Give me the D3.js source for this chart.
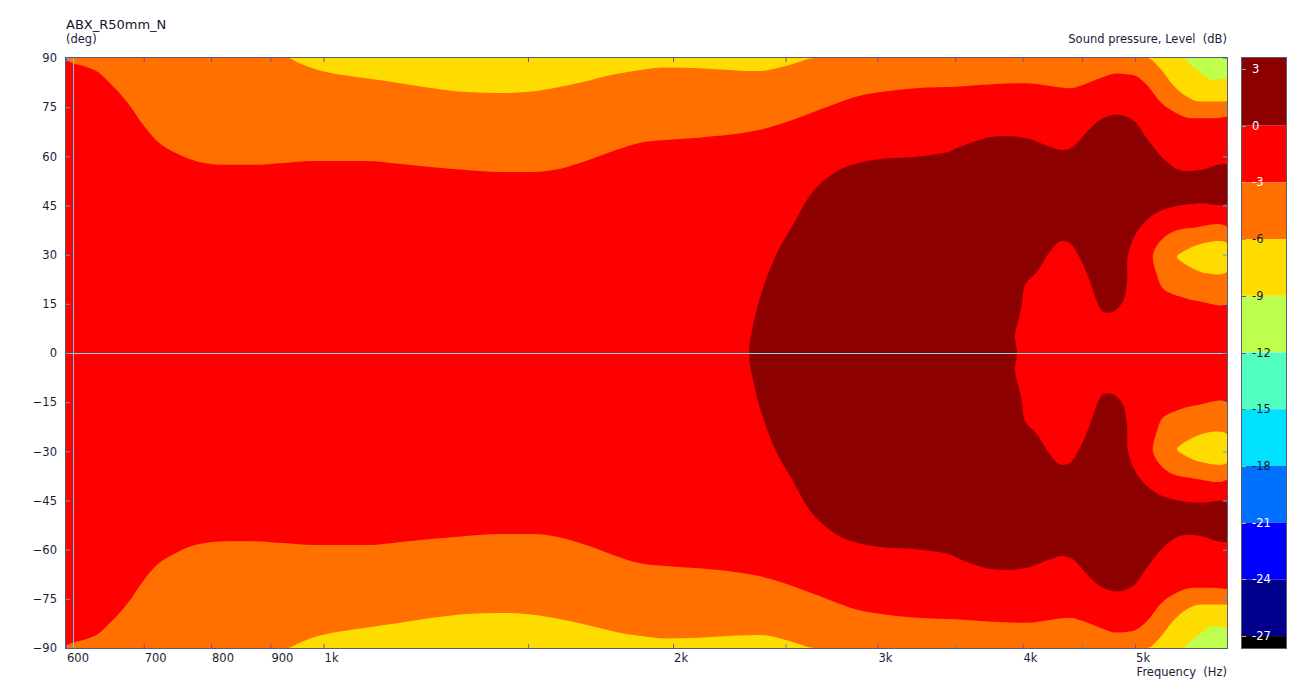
<!DOCTYPE html>
<html><head><meta charset="utf-8">
<script src="https://cdn.jsdelivr.net/npm/d3@7"></script>
<style>
body{margin:0;background:#fff}
text{font-family:"DejaVu Sans",Verdana,sans-serif;white-space:pre}
</style>
</head><body>
<svg id="chart" width="1300" height="684"></svg>
<script>
// ---------- data ----------
const chartTitle = "ABX_R50mm_N";
const freqTicks = [600, 700, 800, 900, 1000, 2000, 3000, 4000, 5000];
const freqTickLabels = ["600", "700", "800", "900", "1k", "2k", "3k", "4k", "5k"];
const freqMinorTicks = [1500, 2500, 3500, 4500];
const angleTicks = [90, 75, 60, 45, 30, 15, 0, -15, -30, -45, -60, -75, -90];
const levelTicks = [3, 0, -3, -6, -9, -12, -15, -18, -21, -24, -27];
const levelEdges = [3.58, 0, -3, -6, -9, -12, -15, -18, -21, -24, -27, -27.63];
const levelColors = ["#8c0000", "#ff0000", "#ff7000", "#ffdc00", "#bdff4c", "#50ffc0",
                     "#00e0ff", "#0070ff", "#0000ff", "#00008c", "#000000"];

const edgeMinus9 = [[600,90],[5400,90],[5487,90],[5608,87.3],[5687,85.7],[5835,83.3],[6000,83.9]];
const edgeMinus6 = [[600,90],[932,90],[952,88.5],[991,86.3],[1039,84.8],[1088,83.8],[1161,82.4],
  [1242,80.8],[1327,79.6],[1416,79.3],[1494,79.6],[1577,80.8],[1673,82.7],[1786,85.1],[1870,86.3],
  [1972,87.1],[2106,86.9],[2252,86.3],[2371,86.0],[2487,87.3],[2567,88.8],[2619,89.8],[2650,90],
  [5119,90],[5253,86.9],[5390,81.8],[5542,78.2],[5687,76.7],[6000,76.7]];
const edgeMinus3 = [[600,89.2],[608,88.4],[624,87.3],[641,85.4],[653,82.7],[666,79.6],[680,75.7],
  [699,69.6],[717,65.0],[746,61.0],[781,58.3],[824,57.4],[869,57.4],[923,58.0],[979,58.6],[1088,58.6],
  [1161,57.7],[1242,56.7],[1327,55.8],[1416,55.2],[1515,55.2],[1577,55.8],[1673,58.3],[1786,61.9],
  [1870,64.1],[1972,65.0],[2106,65.7],[2252,66.7],[2371,68.0],[2487,70.1],[2603,72.6],[2746,75.7],
  [2874,78.2],[3032,79.7],[3238,80.8],[3533,81.3],[3772,82.0],[4035,82.3],[4249,81.3],[4394,80.8],
  [4509,81.8],[4663,83.8],[4823,85.3],[4979,84.8],[5119,81.8],[5253,76.7],[5433,73.1],[5608,71.6],
  [5835,71.6],[6000,72.1]];
const edgeZero = [[2325,0],[2348,9.6],[2390,19.7],[2453,29.9],[2537,39.1],[2639,49.2],[2779,55.8],
  [2973,58.9],[3238,59.9],[3457,61.4],[3533,62.9],[3772,66.0],[4035,65.5],[4223,62.9],[4334,61.9],
  [4420,62.9],[4545,67.5],[4663,71.1],[4823,72.8],[4979,71.1],[5119,65.5],[5284,59.4],[5465,55.8],
  [5687,55.8],[6000,57.4],[6000,45.7],[5687,45.7],[5390,44.6],[5180,42.1],[5019,37.0],[4930,29.9],
  [4920,21.8],[4881,15.7],[4785,12.6],[4691,12.6],[4636,15.7],[4572,21.8],[4482,28.9],[4394,33.5],
  [4308,34.0],[4223,30.9],[4116,24.8],[4019,20.7],[3995,14.6],[3964,9.5],[3940,5.5],[3956,0]];
const islandMinus3 = [[6000,38.5],[5608,38.2],[5390,37.0],[5253,34.0],[5180,29.9],[5222,23.8],
  [5284,19.7],[5465,17.2],[5687,15.7],[6000,15.2]];
const islandMinus6 = [[6000,33.5],[5687,33.2],[5498,30.9],[5433,29.4],[5542,26.8],[5766,24.3],[6000,24.8]];
const cursorFreq = 608;

// ---------- chart ----------
const svg = d3.select("#chart");
const L = 66, R = 1227, T = 58, B = 648;
const x = d3.scaleLog().domain([600, 6000]).range([L, R]);
const y = d3.scaleLinear().domain([-90, 90]).range([B, T]);
const cb = d3.scaleLinear().domain([levelEdges[levelEdges.length-1], levelEdges[0]]).range([B, T]);
const colorOf = lvl => levelColors[levelEdges.findIndex((e, i) => i > 0 && lvl >= e) - 1];

svg.append("clipPath").attr("id", "plotclip")
  .append("rect").attr("x", L).attr("y", T).attr("width", R - L).attr("height", B - T);
const plot = svg.append("g").attr("clip-path", "url(#plotclip)");

plot.append("rect").attr("x", L).attr("y", T).attr("width", R - L).attr("height", B - T)
  .attr("fill", levelColors[4]);

const band = d3.area().x(d => x(d[0])).y0(d => y(-d[1])).y1(d => y(d[1])).curve(d3.curveMonotoneX);
[[edgeMinus9, levelColors[3]], [edgeMinus6, levelColors[2]], [edgeMinus3, levelColors[1]]]
  .forEach(([edge, col]) => plot.append("path").attr("d", band(edge)).attr("fill", col));

const closed = d3.line().x(d => x(d[0])).y(d => y(d[1])).curve(d3.curveCatmullRomClosed.alpha(0.5));
const mirrorRing = pts => pts.concat(pts.slice(1, -1).reverse().map(([f, a]) => [f, -a]));
plot.append("path").attr("d", closed(mirrorRing(edgeZero))).attr("fill", levelColors[0]);

[[islandMinus3, levelColors[2]], [islandMinus6, levelColors[3]]].forEach(([pts, col]) => {
  plot.append("path").attr("d", closed(pts)).attr("fill", col);
  plot.append("path").attr("d", closed(pts.map(([f, a]) => [f, -a]))).attr("fill", col);
});

// cursor lines
plot.append("line").attr("x1", L).attr("x2", R).attr("y1", y(0) + 0.5).attr("y2", y(0) + 0.5)
  .attr("stroke", "#78dcec").attr("stroke-width", 1);
plot.append("line").attr("x1", Math.round(x(cursorFreq)) + 0.5).attr("x2", Math.round(x(cursorFreq)) + 0.5)
  .attr("y1", T).attr("y2", B).attr("stroke", "#5ccfe6").attr("stroke-width", 1);

// axes
const fontSize = "11.5px", txt = "#1c1c38";
const ax = (g, color) => { g.select(".domain").remove(); g.selectAll(".tick line").attr("stroke", color); };

const gB = svg.append("g").attr("transform", `translate(0,${B})`)
  .call(d3.axisBottom(x).tickValues(freqTicks).tickFormat((d, i) => freqTickLabels[i]).tickSize(-4).tickPadding(6));
ax(gB, "#6a4ac8");
gB.selectAll("text").attr("text-anchor", "start").attr("dx", "0.5").attr("fill", txt).style("font-size", fontSize);
svg.append("g").attr("transform", `translate(0,${B})`)
  .call(d3.axisBottom(x).tickValues(freqMinorTicks).tickFormat("").tickSize(-4)).call(g => ax(g, "#4a8ad0"));
const gT = svg.append("g").attr("transform", `translate(0,${T})`)
  .call(d3.axisTop(x).tickValues(freqTicks.concat(freqMinorTicks)).tickFormat("").tickSize(-4));
ax(gT, "#6a4ac8");

const gL = svg.append("g").attr("transform", `translate(${L},0)`)
  .call(d3.axisLeft(y).tickValues(angleTicks).tickSize(-4).tickPadding(9));
ax(gL, "#3cb8d0");
gL.selectAll("text").attr("fill", txt).style("font-size", fontSize);
const gR = svg.append("g").attr("transform", `translate(${R},0)`)
  .call(d3.axisRight(y).tickValues(angleTicks).tickFormat("").tickSize(-4));
ax(gR, "#3cb8d0");

// frame
svg.append("rect").attr("x", L - 0.5).attr("y", T - 0.5).attr("width", R - L + 1).attr("height", B - T + 1)
  .attr("fill", "none").attr("stroke", "#5a5e6a").attr("stroke-width", 1);

// titles
svg.append("text").attr("x", L).attr("y", 29).text(chartTitle).attr("fill", "#141430").style("font-size", "13px");
svg.append("text").attr("x", L).attr("y", 43).text("(deg)").attr("fill", txt).style("font-size", fontSize);
svg.append("text").attr("x", R).attr("y", 43).attr("text-anchor", "end").text("Sound pressure, Level  (dB)")
  .attr("fill", txt).style("font-size", fontSize);
svg.append("text").attr("x", R).attr("y", 676).attr("text-anchor", "end").text("Frequency  (Hz)")
  .attr("fill", txt).style("font-size", fontSize);

// colour bar
const CL = 1242, CR = 1286;
const cbG = svg.append("g");
levelColors.forEach((c, i) => {
  cbG.append("rect").attr("x", CL).attr("width", CR - CL)
    .attr("y", cb(levelEdges[i])).attr("height", cb(levelEdges[i + 1]) - cb(levelEdges[i])).attr("fill", c);
});
const cbTickColors = ["#3cc0d8", "#3cc0d8", "#c8c060", "#9090a0", "#3060e0", "#c04040", "#e06030", "#d0c020", "#d0c020", "#c0c020", "#c0c020"];
levelTicks.forEach((v, i) => {
  cbG.append("line").attr("x1", CL).attr("x2", CL + 4).attr("y1", Math.round(cb(v)) + 0.5).attr("y2", Math.round(cb(v)) + 0.5)
    .attr("stroke", cbTickColors[i]);
  const dark = (v <= -6 && v >= -18);
  cbG.append("text").attr("x", 1252).attr("y", cb(v)).attr("dy", "0.35em").text(String(v))
    .attr("fill", dark ? txt : "#ffffff").style("font-size", fontSize);
});
svg.append("rect").attr("x", CL - 0.5).attr("y", T - 0.5).attr("width", CR - CL + 1).attr("height", B - T + 1)
  .attr("fill", "none").attr("stroke", "#5a5e6a").attr("stroke-width", 1);
</script>
</body></html>
